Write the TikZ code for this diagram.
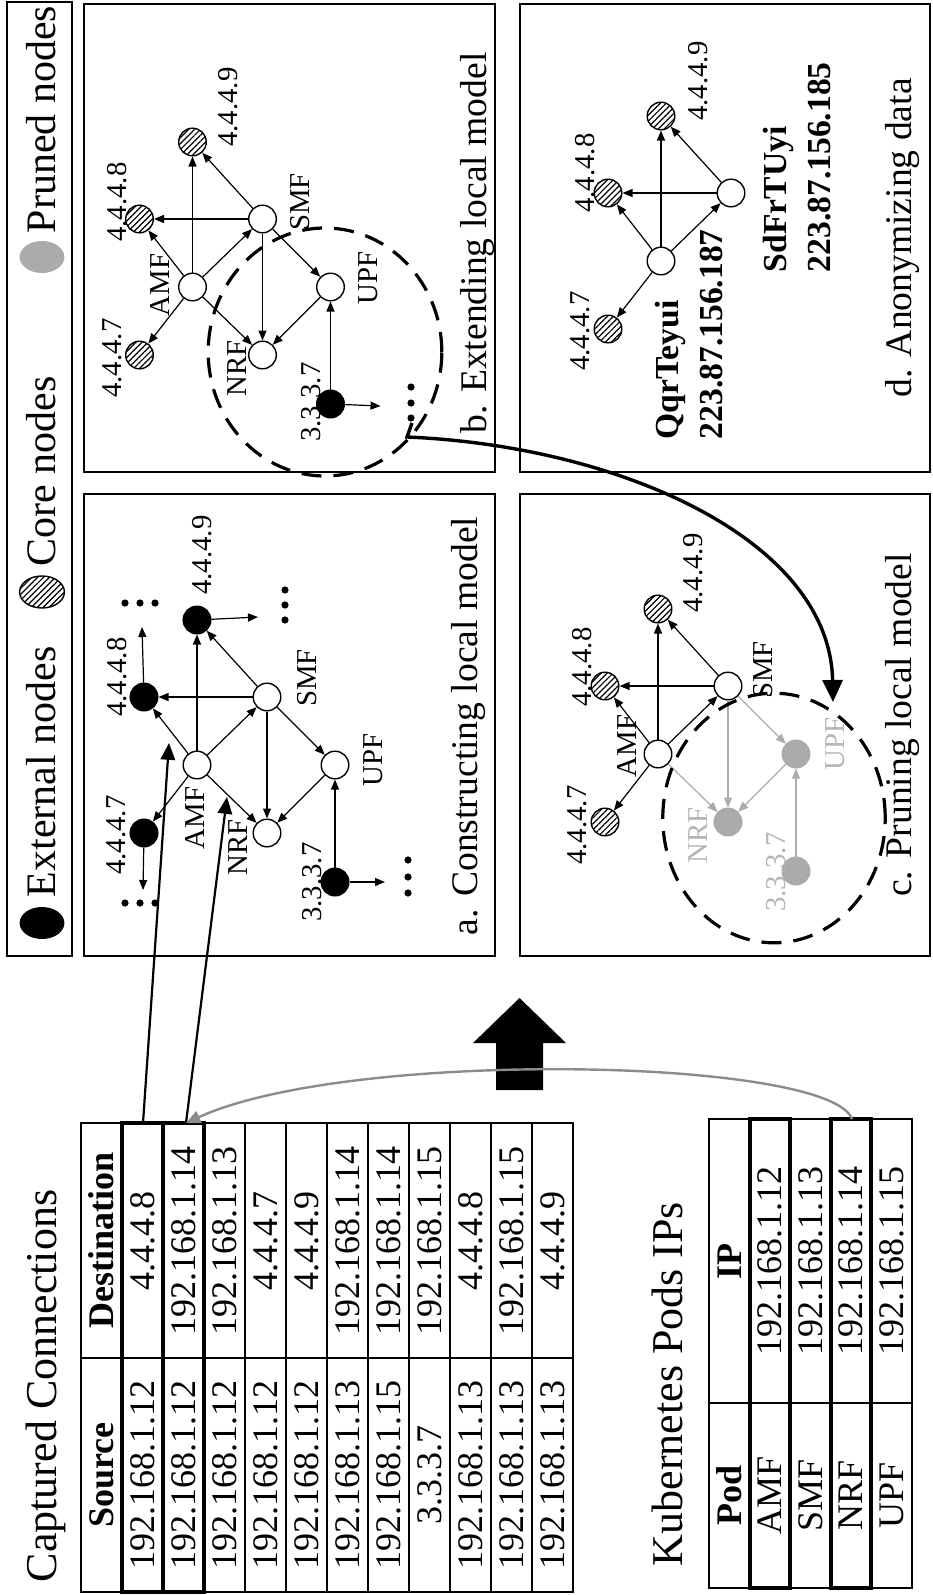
\documentclass[tikz,border=0pt]{standalone}
\usepackage{fontspec}
\setmainfont{Liberation Serif}
\usetikzlibrary{arrows.meta,patterns.meta}
\definecolor{prgray}{HTML}{ABABAB}
\definecolor{prtext}{HTML}{B5B5B5}
\definecolor{linkgray}{HTML}{8C8C8C}
\begin{document}
\begin{tikzpicture}[x={(0.25pt,0)}, y={(0,-0.25pt)},
  nd/.style={circle, draw, line width=0.35pt, minimum size=6.9pt, inner sep=0pt},
  wnode/.style={nd, fill=white},
  enode/.style={nd, fill=black},
  cnode/.style={nd, pattern={Lines[angle=45,distance=1.05pt,line width=0.3pt]}},
  pnode/.style={nd, draw=prgray, fill=prgray},
  lbl/.style={rotate=90, inner sep=0pt, font=\fontsize{7.2}{8}\selectfont},
  plbl/.style={lbl, text=prtext},
  bl/.style={rotate=90, inner sep=0pt, anchor=west, font=\fontsize{8.4}{10}\selectfont\bfseries},
  captxt/.style={rotate=90, inner sep=0pt, font=\fontsize{9.4}{11}\selectfont},
  ttl/.style={rotate=90, inner sep=0pt, font=\fontsize{11}{13}\selectfont},
  leg/.style={rotate=90, inner sep=0pt, anchor=west, font=\fontsize{10.5}{12}\selectfont},
  cell/.style={rotate=90, inner sep=0pt, font=\fontsize{9}{11}\selectfont},
  hcell/.style={rotate=90, inner sep=0pt, font=\fontsize{9}{11}\selectfont\bfseries},
  lnk/.style={-{Triangle[length=2.5pt,width=2pt]}, line width=0.3pt},
  plnk/.style={lnk, draw=prgray},
  frame/.style={line width=0.4pt},
  tline/.style={line width=0.35pt},
  boldbox/.style={line width=1pt},
  dotfill/.style={fill=black},
  dcirc/.style={line width=0.8pt, dash pattern=on 5pt off 3pt},
]
\useasboundingbox (0,0) rectangle (932,1595);

% ---------- legend ----------
\draw[frame] (7,2) rectangle (72,956);
\fill (42,923) ellipse [x radius=5.6pt, y radius=4pt];
\node[leg] (lgext) at (41,898) {External nodes};
\draw[line width=0.35pt, pattern={Lines[angle=45,distance=1.05pt,line width=0.3pt]}] (42,592) ellipse [x radius=5.6pt, y radius=4pt];
\node[leg] (lgcore) at (41,567) {Core nodes};
\fill[prgray] (42,257) ellipse [x radius=5.6pt, y radius=4pt];
\node[leg] (lgpr) at (41,234) {Pruned nodes};

% ---------- panel frames ----------
\draw[frame] (84,494) rectangle (495,956);
\draw[frame] (84,4) rectangle (495,472);
\draw[frame] (520,494) rectangle (930,956);
\draw[frame] (520,4) rectangle (930,472);

% ---------- panel a ----------
\node[enode] (a47) at (144,833) {};
\node[enode] (a48) at (144,697) {};
\node[enode] (a49) at (197,620) {};
\node[wnode] (aamf) at (197,765) {};
\node[wnode] (asmf) at (267,697) {};
\node[wnode] (anrf) at (267,833) {};
\node[wnode] (aupf) at (335,765) {};
\node[enode] (a337) at (335,882) {};
\draw[lnk] (aamf) -- (a47);
\draw[lnk] (aamf) -- (a48);
\draw[lnk] (aamf) -- (a49);
\draw[lnk] (aamf) -- (asmf);
\draw[lnk] (aamf) -- (anrf);
\draw[lnk] (asmf) -- (a48);
\draw[lnk] (asmf) -- (a49);
\draw[lnk] (asmf) -- (anrf);
\draw[lnk] (asmf) -- (aupf);
\draw[lnk] (aupf) -- (anrf);
\draw[lnk] (a337) -- (aupf);
\coordinate (a48e) at (142,627);
\coordinate (a47e) at (143,890);
\coordinate (a49e) at (258,617);
\coordinate (a337e) at (385,882);
\draw[lnk] (a48) -- (a48e);
\draw[lnk] (a47) -- (a47e);
\draw[lnk] (a49) -- (a49e);
\draw[lnk] (a337) -- (a337e);
\foreach \p in {125,140,155} {\fill[dotfill] (\p,603) circle [radius=0.9pt]; \fill[dotfill] (\p,903) circle [radius=0.9pt];}
\foreach \q in {590,605,620} {\fill[dotfill] (285,\q) circle [radius=0.9pt];}
\foreach \q in {860,877,893} {\fill[dotfill] (408,\q) circle [radius=0.9pt];}
\node[lbl] (la47) at (116.5,835) {4.4.4.7};
\node[lbl] (la48) at (117,677) {4.4.4.8};
\node[lbl] (la49) at (202,555) {4.4.4.9};
\node[lbl] (laamf) at (195,818) {AMF};
\node[lbl] (lasmf) at (307,678) {SMF};
\node[lbl] (lanrf) at (238,847) {NRF};
\node[lbl] (laupf) at (373,760) {UPF};
\node[lbl] (la337) at (312,882) {3.3.3.7};
\node[captxt] (capa) at (469,726) {a. Constructing local model};

% ---------- panel b ----------
\begin{scope}[shift={(-4.5,-478)}]
\node[cnode] (b47) at (144,833) {};
\node[cnode] (b48) at (144,697) {};
\node[cnode] (b49) at (197,620) {};
\node[wnode] (bamf) at (197,765) {};
\node[wnode] (bsmf) at (267,697) {};
\node[wnode] (bnrf) at (267,833) {};
\node[wnode] (bupf) at (335,765) {};
\node[enode] (b337) at (335,882) {};
\draw[lnk] (bamf) -- (b47);
\draw[lnk] (bamf) -- (b48);
\draw[lnk] (bamf) -- (b49);
\draw[lnk] (bamf) -- (bsmf);
\draw[lnk] (bamf) -- (bnrf);
\draw[lnk] (bsmf) -- (b48);
\draw[lnk] (bsmf) -- (b49);
\draw[lnk] (bsmf) -- (bnrf);
\draw[lnk] (bsmf) -- (bupf);
\draw[lnk] (bupf) -- (bnrf);
\draw[lnk] (b337) -- (bupf);
\coordinate (b337e) at (385,884);
\draw[lnk] (b337) -- (b337e);
\end{scope}
\foreach \q in {387,403,418} {\fill[dotfill] (411,\q) circle [radius=0.9pt];}
\node[lbl] (lb47) at (112,358) {4.4.4.7};
\node[lbl] (lb48) at (117,202) {4.4.4.8};
\node[lbl] (lb49) at (228,107) {4.4.4.9};
\node[lbl] (lbamf) at (160,285) {AMF};
\node[lbl] (lbsmf) at (300,202) {SMF};
\node[lbl] (lbnrf) at (237,368) {NRF};
\node[lbl] (lbupf) at (368,278) {UPF};
\node[lbl] (lb337) at (311,402) {3.3.3.7};
\draw[dcirc] (325,352) ellipse [x radius=29.2pt, y radius=31pt];
\node[captxt] (capb) at (478,243) {b. Extending local model};

% ---------- panel c ----------
\begin{scope}[shift={(461,-11)}]
\node[cnode] (c47) at (144,833) {};
\node[cnode] (c48) at (144,697) {};
\node[cnode] (c49) at (197,620) {};
\node[wnode] (camf) at (197,765) {};
\node[wnode] (csmf) at (267,697) {};
\node[pnode] (cnrf) at (267,833) {};
\node[pnode] (cupf) at (335,765) {};
\node[pnode] (c337) at (335,882) {};
\draw[lnk] (camf) -- (c47);
\draw[lnk] (camf) -- (c48);
\draw[lnk] (camf) -- (c49);
\draw[lnk] (camf) -- (csmf);
\draw[lnk] (csmf) -- (c48);
\draw[lnk] (csmf) -- (c49);
\draw[plnk] (camf) -- (cnrf);
\draw[plnk] (csmf) -- (cnrf);
\draw[plnk] (csmf) -- (cupf);
\draw[plnk] (cupf) -- (cnrf);
\draw[plnk] (c337) -- (cupf);
\end{scope}
\node[lbl] (lc47) at (577,825) {4.4.4.7};
\node[lbl] (lc48) at (582,667) {4.4.4.8};
\node[lbl] (lc49) at (693,573) {4.4.4.9};
\node[lbl] (lcamf) at (627,746) {AMF};
\node[lbl] (lcsmf) at (763,670) {SMF};
\node[plbl] (lcnrf) at (698,835) {NRF};
\node[plbl] (lcupf) at (835,744) {UPF};
\node[plbl] (lc337) at (776,872) {3.3.3.7};
\draw[dcirc] (774,818) ellipse [x radius=27.8pt, y radius=31.2pt];
\node[captxt] (capc) at (902,725) {c. Pruning local model};

% ---------- panel d ----------
\begin{scope}[shift={(464,-504)}]
\node[cnode] (d47) at (144,833) {};
\node[cnode] (d48) at (144,697) {};
\node[cnode] (d49) at (197,620) {};
\node[wnode] (damf) at (197,765) {};
\node[wnode] (dsmf) at (267,697) {};
\draw[lnk] (damf) -- (d47);
\draw[lnk] (damf) -- (d48);
\draw[lnk] (damf) -- (d49);
\draw[lnk] (damf) -- (dsmf);
\draw[lnk] (dsmf) -- (d48);
\draw[lnk] (dsmf) -- (d49);
\end{scope}
\node[lbl] (ld47) at (580,331) {4.4.4.7};
\node[lbl] (ld48) at (585,173) {4.4.4.8};
\node[lbl] (ld49) at (698,81) {4.4.4.9};
\node[bl] (ldq1) at (670,440) {QqrTeyui};
\node[bl] (ldq2) at (712,440) {223.87.156.187};
\node[bl] (lds1) at (778,273) {SdFrTUyi};
\node[bl] (lds2) at (820,273) {223.87.156.185};
\node[captxt] (capd) at (902,238) {d. Anonymizing data};

% ---------- big curved arrow b -> c ----------
\coordinate (bgs0) at (412,423);
\coordinate (bgs) at (407,437);
\coordinate (bge) at (833,702);
\draw[line width=0.85pt, -{Triangle[length=5.5pt,width=5pt]}] (bgs0) -- (bgs) .. controls (620,446) and (830,540) .. (bge);

% ---------- table 1 ----------
\node[ttl] (t1) at (46,1386) {Captured Connections};
\draw[tline] (81,1123) rectangle (573,1592);
\foreach \k in {1,...,11} {\draw[tline] (81+41*\k,1123) -- (81+41*\k,1592);}
\draw[tline] (81,1358) -- (573,1358);
\node[hcell] (hsrc) at (101.5,1475) {Source};
\node[hcell] (hdst) at (101.5,1240.5) {Destination};
\foreach \s/\d [count=\i] in {192.168.1.12/4.4.4.8, 192.168.1.12/192.168.1.14, 192.168.1.12/192.168.1.13, 192.168.1.12/4.4.4.7, 192.168.1.12/4.4.4.9, 192.168.1.13/192.168.1.14, 192.168.1.15/192.168.1.14, 3.3.3.7/192.168.1.15, 192.168.1.13/4.4.4.8, 192.168.1.13/192.168.1.15, 192.168.1.13/4.4.4.9} {
  \node[cell] (src\i) at (101.5+41*\i,1475) {\s};
  \node[cell] (dst\i) at (101.5+41*\i,1240.5) {\d};
}
\draw[boldbox] (122,1123) rectangle (163,1592);
\draw[boldbox] (163,1123) rectangle (204,1592);

% ---------- table 2 ----------
\node[ttl] (t2) at (667,1384) {Kubernetes Pods IPs};
\draw[tline] (709,1119) rectangle (912,1588);
\foreach \k in {1,...,4} {\draw[tline] (709+40.6*\k,1119) -- (709+40.6*\k,1588);}
\draw[tline] (709,1403) -- (912,1403);
\node[hcell] (hpod) at (729.3,1495.5) {Pod};
\node[hcell] (hip) at (729.3,1261) {IP};
\foreach \p/\a [count=\i] in {AMF/192.168.1.12, SMF/192.168.1.13, NRF/192.168.1.14, UPF/192.168.1.15} {
  \node[cell] (pod\i) at (729.3+40.6*\i,1495.5) {\p};
  \node[cell] (ip\i) at (729.3+40.6*\i,1261) {\a};
}
\draw[boldbox] (749.6,1119) rectangle (790.2,1588);
\draw[boldbox] (830.8,1119) rectangle (871.4,1588);

% ---------- block arrow ----------
\fill (496,1090) -- (496,1043) -- (473,1043) -- (519.5,998) -- (566,1043) -- (543,1043) -- (543,1090) -- cycle;

% ---------- connectors between tables and panel a ----------
\coordinate (r1top) at (143,1123);
\coordinate (r2top) at (186,1123);
\coordinate (nrftop) at (852,1119);
\coordinate (pa1) at (169,743);
\coordinate (pa2) at (227,797);
\draw[line width=0.55pt, -{Triangle[length=4.2pt,width=3.6pt]}] (r1top) -- (pa1);
\draw[line width=0.55pt, -{Triangle[length=4.2pt,width=3.6pt]}] (r2top) -- (pa2);
\draw[linkgray, line width=0.6pt, -{Triangle[length=3.6pt,width=3.2pt]}] (nrftop) .. controls (830,1058) and (350,1048) .. (r2top);
\end{tikzpicture}
\end{document}
